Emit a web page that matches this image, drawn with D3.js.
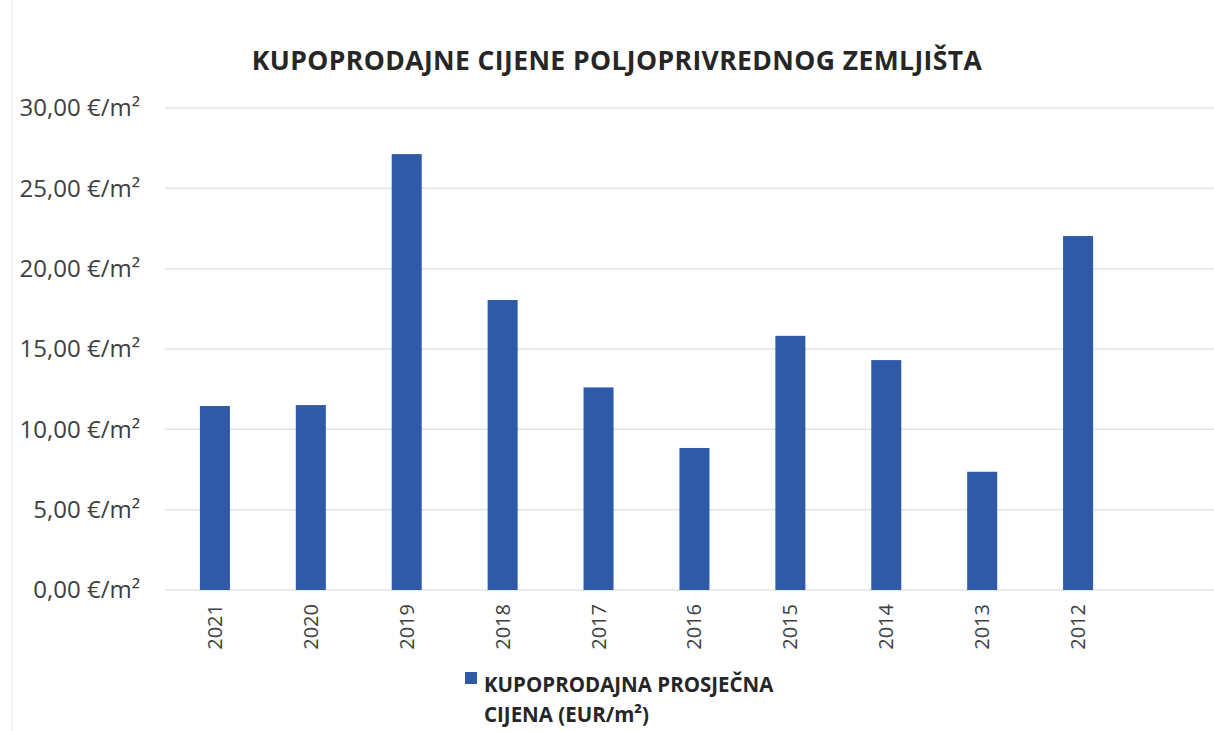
<!DOCTYPE html>
<html>
<head>
<meta charset="utf-8">
<script src="https://cdn.jsdelivr.net/npm/d3@7"></script>
<style>
  body { margin: 0; background: #fff; }
  svg { display: block; font-family: "Open Sans", "Noto Sans", sans-serif; }
</style>
</head>
<body>
<div id="chart"></div>
<script>
// data
var years = ['2021', '2020', '2019', '2018', '2017', '2016', '2015', '2014', '2013', '2012'];
var prices = [11.45, 11.51, 27.13, 18.05, 12.61, 8.84, 15.82, 14.31, 7.36, 22.03];
var yTicks = [0, 5, 10, 15, 20, 25, 30];

var title = 'KUPOPRODAJNE CIJENE POLJOPRIVREDNOG ZEMLJIŠTA';
var legendLines = ['KUPOPRODAJNA PROSJEČNA', 'CIJENA (EUR/m²)'];

var width = 1214, height = 731;

var svg = d3.select('#chart')
    .append('svg')
      .attr('width', width)
      .attr('height', height);

var x = d3.scaleBand().domain(years).range([167, 1126]).paddingInner(0.687).paddingOuter(0.343);
var y = d3.scaleLinear().domain([0, 30]).range([590, 108]);

// faint left border of the scanned chart
svg.append('line')
    .attr('x1', 12).attr('x2', 12).attr('y1', 0).attr('y2', height)
    .attr('stroke', '#eeeeee').attr('stroke-width', 1.5);

// gridlines
svg.append('g')
  .selectAll('line')
  .data(yTicks)
  .enter()
  .append('line')
    .attr('x1', 165)
    .attr('x2', width)
    .attr('y1', d => y(d))
    .attr('y2', d => y(d))
    .attr('stroke', '#e3e3e3')
    .attr('stroke-width', 1.5);

// y axis labels
var yAxis = svg.append('g')
    .attr('transform', 'translate(140,0)')
    .call(d3.axisLeft(y).tickValues(yTicks).tickSize(0).tickPadding(0)
      .tickFormat(d => d3.format('.2f')(d).replace('.', ',') + ' €/m²'));
yAxis.select('.domain').remove();
yAxis.selectAll('text')
    .attr('font-size', 24)
    .attr('font-family', '"Open Sans", "Noto Sans", sans-serif')
    .attr('fill', '#404040');

// bars
svg.append('g')
  .selectAll('rect')
  .data(years)
  .enter()
  .append('rect')
    .attr('x', (d, i) => x(d))
    .attr('width', x.bandwidth())
    .attr('y', (d, i) => y(prices[i]))
    .attr('height', (d, i) => y(0) - y(prices[i]))
    .attr('fill', '#2e5aa8');

// x axis labels, rotated
var xAxis = svg.append('g')
    .attr('transform', 'translate(0,590)')
    .call(d3.axisBottom(x).tickSize(0).tickPadding(0));
xAxis.select('.domain').remove();
xAxis.selectAll('text')
    .attr('font-size', 20)
    .attr('font-family', '"Open Sans", "Noto Sans", sans-serif')
    .attr('fill', '#404040')
    .attr('text-anchor', 'end')
    .attr('dy', '0.35em')
    .attr('transform', 'translate(0,14) rotate(-90)')
    .attr('y', 0);

// title
svg.append('text')
    .attr('x', 617)
    .attr('y', 70)
    .attr('text-anchor', 'middle')
    .attr('font-size', 26.5)
    .attr('font-weight', 'bold')
    .attr('letter-spacing', 0.4)
    .attr('fill', '#262626')
    .text(title);

// legend
svg.append('rect')
    .attr('x', 465).attr('y', 672)
    .attr('width', 12).attr('height', 12)
    .attr('fill', '#2e5aa8');

svg.append('g')
  .selectAll('text')
  .data(legendLines)
  .enter()
  .append('text')
    .attr('x', 484)
    .attr('y', (d, i) => 692 + i * 30)
    .attr('font-size', 20.5)
    .attr('font-weight', 'bold')
    .attr('fill', '#262626')
    .text(d => d);
</script>
</body>
</html>
